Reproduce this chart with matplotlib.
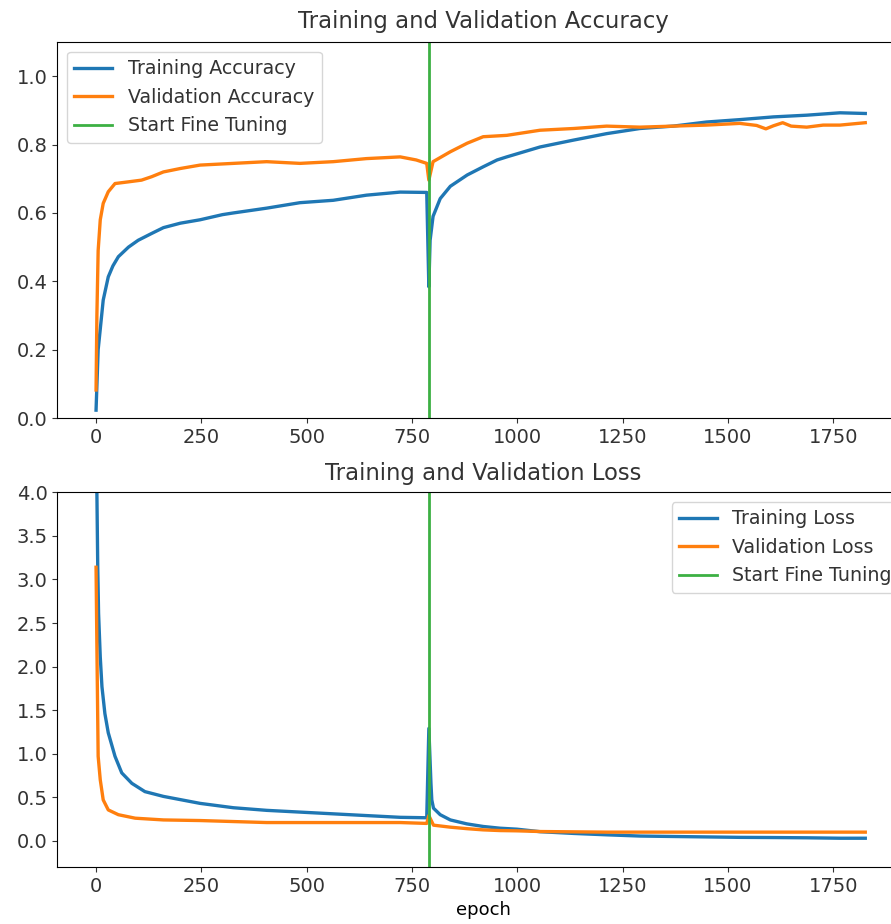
import matplotlib
matplotlib.use("Agg")
import matplotlib.pyplot as plt

# values
fine_tune_epoch = 790

acc_epochs = [0, 5, 10, 17, 29, 40, 53, 77, 100, 132, 160, 200, 247, 300, 326, 405, 484,
              563, 642, 722, 785, 790, 793, 800, 817, 841, 881, 919, 952, 975, 1054, 1133,
              1212, 1291, 1370, 1449, 1528, 1608, 1687, 1766, 1826]
train_acc = [0.023, 0.20, 0.26, 0.345, 0.413, 0.445, 0.472, 0.50, 0.52, 0.54, 0.557, 0.57,
             0.58, 0.595, 0.60, 0.614, 0.63, 0.637, 0.652, 0.661, 0.66, 0.384, 0.52, 0.59,
             0.642, 0.678, 0.711, 0.735, 0.755, 0.764, 0.793, 0.813, 0.832, 0.847, 0.854,
             0.866, 0.873, 0.881, 0.886, 0.893, 0.891]

val_acc_epochs = [0, 2, 5, 10, 17, 29, 45, 77, 108, 132, 160, 200, 247, 326, 405, 484, 563,
                  642, 722, 760, 785, 790, 800, 841, 881, 919, 975, 1054, 1133, 1212, 1291,
                  1370, 1449, 1528, 1568, 1590, 1608, 1630, 1650, 1687, 1726, 1766, 1826]
val_acc = [0.082, 0.30, 0.49, 0.58, 0.628, 0.662, 0.686, 0.691, 0.696, 0.706, 0.72, 0.73,
           0.74, 0.745, 0.75, 0.745, 0.75, 0.759, 0.764, 0.755, 0.745, 0.696, 0.75, 0.779,
           0.804, 0.823, 0.827, 0.842, 0.847, 0.854, 0.851, 0.854, 0.857, 0.862, 0.856,
           0.846, 0.855, 0.864, 0.854, 0.851, 0.857, 0.857, 0.864]

loss_epochs = [0, 2, 4, 6, 10, 14, 21, 29, 45, 61, 85, 116, 160, 247, 326, 405, 484, 563,
               642, 722, 785, 790, 795, 797, 801, 817, 841, 880, 919, 959, 999, 1054, 1134,
               1213, 1292, 1370, 1450, 1529, 1608, 1688, 1767, 1826]
train_loss = [4.5, 4.0, 3.15, 2.61, 2.11, 1.77, 1.46, 1.24, 0.97, 0.78, 0.66, 0.565, 0.51,
              0.43, 0.38, 0.35, 0.33, 0.31, 0.29, 0.27, 0.265, 1.29, 0.66, 0.47, 0.375,
              0.30, 0.24, 0.195, 0.165, 0.145, 0.134, 0.105, 0.085, 0.069, 0.055, 0.05,
              0.045, 0.04, 0.038, 0.035, 0.03, 0.03]

val_loss_epochs = [0, 2, 5, 10, 17, 29, 53, 93, 160, 247, 405, 563, 722, 785, 790, 801, 841,
                   880, 919, 959, 999, 1054, 1213, 1450, 1688, 1826]
val_loss = [3.14, 2.23, 0.97, 0.70, 0.47, 0.355, 0.30, 0.26, 0.24, 0.233, 0.21, 0.21, 0.21,
            0.20, 0.29, 0.18, 0.157, 0.14, 0.126, 0.118, 0.115, 0.107, 0.10, 0.10, 0.10, 0.10]

plt.rcParams['font.size'] = 13
plt.rcParams['xtick.labelsize'] = 14
plt.rcParams['ytick.labelsize'] = 14
plt.rcParams['text.color'] = '#333333'
plt.rcParams['xtick.color'] = '#333333'
plt.rcParams['ytick.color'] = '#333333'

fig = plt.figure(figsize=(8.91, 9.24), dpi=100)

# GRAFICA 1 - accuracy
ax1 = fig.add_axes([0.0643, 0.5476, 0.956, 0.4069])
ax1.plot(acc_epochs, train_acc, color='#1f77b4', lw=2.4, label='Training Accuracy')
ax1.plot(val_acc_epochs, val_acc, color='#ff7f0e', lw=2.4, label='Validation Accuracy')
ax1.set_ylim(0, 1.1)
ax1.plot([fine_tune_epoch, fine_tune_epoch], ax1.get_ylim(), color='#3cb043', lw=2,
         label='Start Fine Tuning')
ax1.set_xlim(-92, 1930)
ax1.legend(loc='upper left', fontsize=13.7)
ax1.set_title('Training and Validation Accuracy', fontsize=16.4, pad=10)

# GRAFICA 2 - loss
ax2 = fig.add_axes([0.0643, 0.0617, 0.956, 0.4055])
ax2.plot(loss_epochs, train_loss, color='#1f77b4', lw=2.4, label='Training Loss')
ax2.plot(val_loss_epochs, val_loss, color='#ff7f0e', lw=2.4, label='Validation Loss')
ax2.set_ylim(-0.3, 4.0)
ax2.plot([fine_tune_epoch, fine_tune_epoch], ax2.get_ylim(), color='#3cb043', lw=2,
         label='Start Fine Tuning')
ax2.set_xlim(-92, 1930)
ax2.legend(loc='upper right', fontsize=13.7)
ax2.set_title('Training and Validation Loss', fontsize=16.4, pad=9)
ax2.set_xlabel('epoch', fontsize=13)

fig.savefig('out.png', dpi=100)
